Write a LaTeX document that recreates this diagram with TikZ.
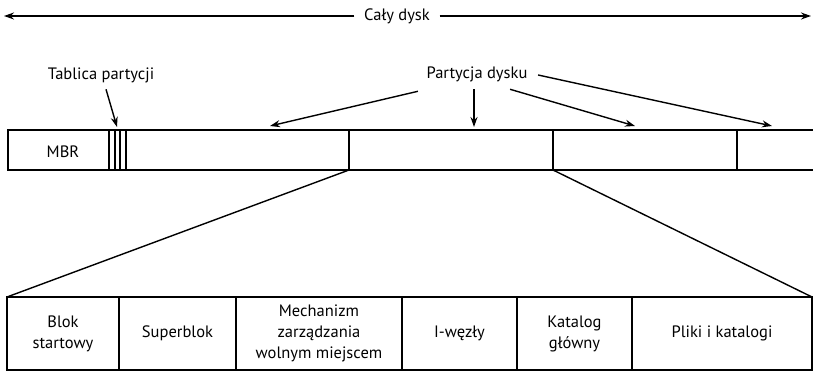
\documentclass[tikz,border=0pt]{standalone}
\usepackage{fontspec}
\setmainfont{PT Sans}
\usepackage{tikz}
\usetikzlibrary{arrows.meta}
\usetikzlibrary{positioning}
\newcommand{\drawarrow}{\draw[-{Stealth[length=10pt,width=7pt]}, line width=1.4pt]}

\begin{document}
\begin{tikzpicture}[x=1pt, y=-1pt, line width=1.4pt,
    label/.style={inner sep=2pt, font=\fontsize{16.5}{21}\selectfont},
    cell/.style={draw, line width=1.4pt, minimum height=73pt, inner sep=0pt, outer sep=0pt,
                 align=center, font=\fontsize{16.5}{21}\selectfont, anchor=north west}]
    \useasboundingbox (0,0) rectangle (813,371);

    % Whole disk
    \node[label, inner xsep=9pt] (caly) at (397,16) {Cały dysk};
    \coordinate (left) at (4,16);
    \coordinate (right) at (811,16);
    \drawarrow (caly.west) -- (left);
    \drawarrow (caly.east) -- (right);

    % Draw upper bar
    \draw (813,130) -- (8,130) -- (8,170) -- (813,170);
    \foreach \x in {109,115,120,126,349,553,737} {
        \draw (\x,130) -- (\x,170);
    }
    \node[label] (mbr) at (63,152) {MBR};

    % Partition table
    \node[label] (tablica) at (101,75) {Tablica partycji};
    \coordinate (tab) at (117,127);
    \drawarrow (tablica.south) ++(5,4) -- (tab);

    % Partitions
    \node[label] (partycja) at (477,74) {Partycja dysku};
    \coordinate (p1) at (270,126);
    \coordinate (p2) at (474,127);
    \coordinate (p3) at (635,126);
    \coordinate (p4) at (772,126);
    \drawarrow (partycja.south west) ++(-6,7) -- (p1);
    \drawarrow (partycja.south) ++(-3,5) -- (p2);
    \drawarrow (partycja.south east) ++(-20,5) -- (p3);
    \drawarrow (partycja.east) ++(8,1) -- (p4);

    % Draw lower bar
    \node[cell, minimum width=112pt] (blok) at (7,297) {Blok\\startowy};
    \node[cell, minimum width=117pt] (super) at (blok.north east) {Superblok};
    \node[cell, minimum width=166pt] (wolne) at (super.north east) {Mechanizm\\zarządzania\\wolnym miejscem};
    \node[cell, minimum width=115pt] (iwezly) at (wolne.north east) {I-węzły};
    \node[cell, minimum width=115pt] (glowny) at (iwezly.north east) {Katalog\\główny};
    \node[cell, minimum width=180pt] (pliki) at (glowny.north east) {Pliki i katalogi};

    % Zoom lines
    \coordinate (d1) at (349,170);
    \coordinate (d2) at (553,170);
    \draw (d1) -- (blok.north west);
    \draw (d2) -- (pliki.north east);
\end{tikzpicture}
\end{document}
